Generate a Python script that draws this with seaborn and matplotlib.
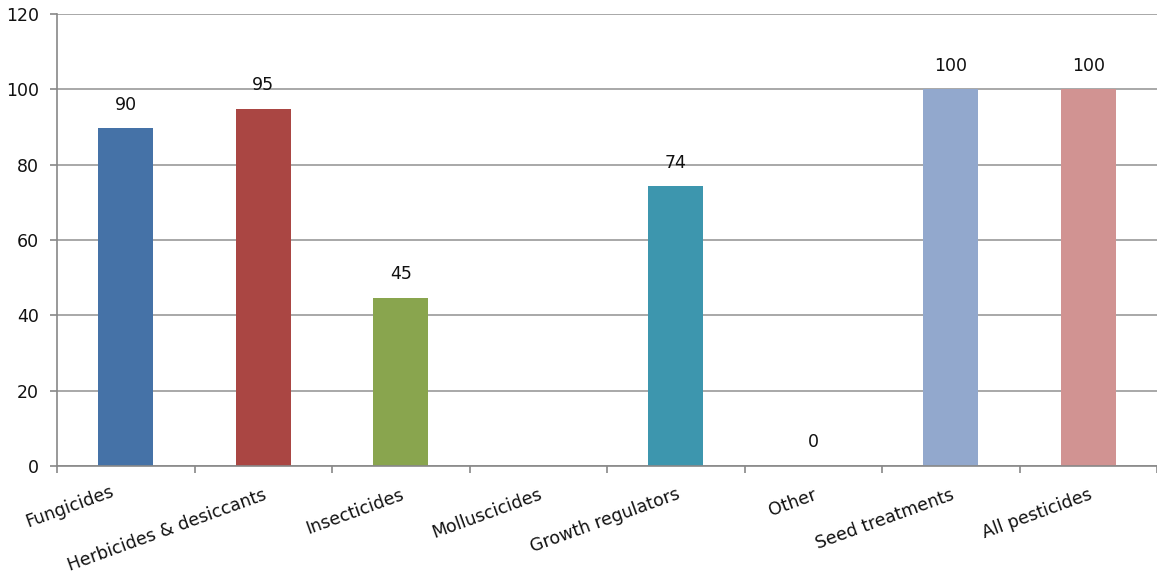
import numpy as np
import pandas as pd
import matplotlib
matplotlib.use("Agg")
import matplotlib.pyplot as plt
import matplotlib.transforms as mtransforms
import seaborn as sns

categories = ["Fungicides", "Herbicides & desiccants", "Insecticides", "Molluscicides",
              "Growth regulators", "Other", "Seed treatments", "All pesticides"]
values = [89.7, 94.8, 44.6, np.nan, 74.3, 0.0, 100.0, 100.0]
colors = ["#4572A7", "#AA4643", "#89A54E", "#80699B", "#3D96AE", "#DB843D", "#92A8CD", "#D19392"]
yticks = [0, 20, 40, 60, 80, 100, 120]

sns.set_theme(style="white")
plt.rcParams["font.family"] = ["DejaVu Sans"]

df = pd.DataFrame({"category": categories, "value": values})

fig = plt.figure(figsize=(11.57, 5.72), dpi=100)
ax = fig.add_axes([57/1157, 1 - 466/572, 1 - 57/1157, (466 - 14)/572])

sns.barplot(data=df, x="category", y="value", hue="category", order=categories,
            hue_order=categories, palette=dict(zip(categories, colors)),
            width=0.4, dodge=False, legend=False, ax=ax, saturation=1, linewidth=0)

ax.set_ylim(0, 120)
ax.set_xlim(-0.5, len(categories) - 0.5)
ax.set_yticks(yticks)
ax.set_yticklabels([str(t) for t in yticks], fontsize=12.5, color="#111111")
ax.yaxis.grid(True, color="#999999", linewidth=1.2)
ax.set_axisbelow(True)
ax.set_xlabel("")
ax.set_ylabel("")

ax.set_xticks(range(len(categories)))
ax.set_xticklabels(categories, rotation=20, ha="right", rotation_mode="anchor",
                   fontsize=12.5, color="#111111")
ax.tick_params(axis="x", which="major", length=0, pad=14)
ax.set_xticks(np.arange(-0.5, len(categories), 1.0), minor=True)
ax.tick_params(axis="x", which="minor", length=5, width=1.2, color="#888888", direction="out", bottom=True)
ax.tick_params(axis="y", length=5, width=1.2, color="#888888", direction="out", left=True, pad=8)

# first category label sits a little further left, as in the reference
first = ax.get_xticklabels()[0]
first.set_transform(first.get_transform() + mtransforms.ScaledTranslation(-16/100, 3/100, fig.dpi_scale_trans))

for side in ["top", "right"]:
    ax.spines[side].set_visible(False)
for side in ["left", "bottom"]:
    ax.spines[side].set_color("#888888")
    ax.spines[side].set_linewidth(1.2)

for i, v in enumerate(values):
    if np.isnan(v):
        continue
    ax.annotate(f"{v:.0f}", xy=(i, v), xytext=(0, 17), textcoords="offset points",
                ha="center", va="center", fontsize=12.5, color="#111111")

fig.savefig("out.png", dpi=100)
